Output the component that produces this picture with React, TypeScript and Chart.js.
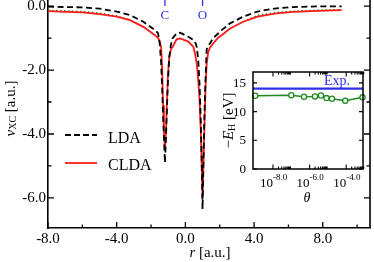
import React, { useEffect, useRef } from "react";
import { Chart, registerables } from "chart.js";

Chart.register(...registerables);

const SERIF = '"Liberation Serif", "Times New Roman", serif';

// ---------- main panel data ----------
const rValues = [
  -8.0, -7.0, -6.0, -5.0, -4.0, -3.22, -2.45, -1.77, -1.59, -1.49, -1.41, -1.35, -1.3, -1.25, -1.19, -1.13,
  -1.08, -1.02, -0.94, -0.84, -0.74, -0.51, -0.31, 0.17, 0.46, 0.56, 0.66, 0.75, 0.83, 0.89, 0.94, 1.0,
  1.06, 1.11, 1.17, 1.24, 1.33, 1.43, 1.62, 1.92, 2.11, 2.6, 3.37, 4.2, 5.3, 6.3, 7.7, 9.1,
];
const ldaValues = [
  -0.02, -0.03, -0.04, -0.08, -0.17, -0.28, -0.49, -0.75, -0.85, -1.2, -1.8, -2.6, -3.4, -4.1, -4.9, -4.1,
  -3.3, -2.4, -1.6, -1.2, -1.0, -0.85, -0.83, -0.96, -1.06, -1.11, -1.27, -1.7, -2.5, -3.5, -4.6, -6.35,
  -4.6, -3.4, -2.3, -1.35, -1.25, -1.17, -1.0, -0.85, -0.75, -0.54, -0.33, -0.17, -0.07, -0.03, -0.01, -0.01,
];
const cldaValues = [
  -0.16, -0.18, -0.2, -0.25, -0.33, -0.44, -0.65, -0.91, -1.0, -1.1, -1.3, -2.0, -3.1, -3.9, -4.5, -3.9,
  -3.1, -2.2, -1.6, -1.35, -1.27, -1.04, -1.01, -1.11, -1.27, -1.48, -1.8, -2.3, -3.0, -3.8, -4.8, -6.0,
  -4.8, -3.7, -2.6, -1.8, -1.43, -1.3, -1.17, -0.98, -0.91, -0.7, -0.49, -0.33, -0.23, -0.18, -0.15, -0.125,
];
const greenValues = [
  -0.13, -0.15, -0.17, -0.22, -0.31, -0.44, null, null, null, null, null, null, null, null, null, null,
  null, null, null, null, null, null, null, null, null, null, null, null, null, null, null, null,
  null, null, null, null, null, null, null, null, null, null, -0.49, -0.29, -0.2, -0.16, -0.13, -0.11,
];
const xMajorTicks = [-8, -4, 0, 4, 8];
const xMinorTicks = [-6, -2, 2, 6, 10];
const yMajorTicks = [0, -2, -4, -6];
const yMinorTicks = [-1, -3, -5];
const atomPositions = [-1.19, 1.0];
const atomLabels = ["C", "O"];
const legendLabels = ["LDA", "CLDA"];

// ---------- inset data ----------
const thetaValues = [1.08e-9, 1.0e-7, 4.94e-7, 1.97e-6, 4.2e-6, 8.4e-6, 1.67e-5, 8.9e-5, 7.8e-4];
const ehValues = [12.75, 12.85, 12.6, 12.65, 12.8, 12.35, 12.25, 11.9, 12.5];
const expValue = 14.0;
const expLabel = "Exp.";
const insetXMajorExps = [-8, -6, -4];
const insetMinorMultipliers = [2, 3, 4, 5, 6, 7, 8, 9];
const insetYTicks = [0, 5, 10, 15];
const thetaMin = 8.07e-10;
const thetaMax = 8.28e-4;

const BLUE = "#2f2fe8";
const GREEN = "#1f8a1f";

type Part = { text: string; font: string; dy?: number };

function drawParts(ctx: CanvasRenderingContext2D, parts: Part[], x: number, y: number, align: "center" | "left" = "center") {
  let total = 0;
  const widths = parts.map((p) => {
    ctx.font = p.font;
    const w = ctx.measureText(p.text).width;
    total += w;
    return w;
  });
  let cx = align === "center" ? x - total / 2 : x;
  ctx.textAlign = "left";
  ctx.textBaseline = "alphabetic";
  parts.forEach((p, i) => {
    ctx.font = p.font;
    ctx.fillText(p.text, cx, y + (p.dy || 0));
    cx += widths[i];
  });
}

const mainDecor = {
  id: "mainDecor",
  afterDraw(chart: any) {
    const { ctx, chartArea, scales } = chart;
    const { left, right, top, bottom } = chartArea;
    const x = scales.x;
    const y = scales.y;
    ctx.save();
    ctx.strokeStyle = "#000";
    ctx.lineWidth = 1.6;
    ctx.beginPath();
    ctx.moveTo(right, top);
    ctx.lineTo(right, bottom);
    ctx.stroke();
    ctx.lineWidth = 1.3;
    ctx.beginPath();
    for (const v of xMajorTicks) {
      const px = x.getPixelForValue(v);
      ctx.moveTo(px, bottom);
      ctx.lineTo(px, bottom - 6);
    }
    for (const v of xMinorTicks) {
      const px = x.getPixelForValue(v);
      ctx.moveTo(px, bottom);
      ctx.lineTo(px, bottom - 3.5);
    }
    for (const v of yMajorTicks) {
      const py = y.getPixelForValue(v);
      ctx.moveTo(left, py);
      ctx.lineTo(left + 6, py);
      ctx.moveTo(right, py);
      ctx.lineTo(right - 6, py);
    }
    for (const v of yMinorTicks) {
      const py = y.getPixelForValue(v);
      ctx.moveTo(left, py);
      ctx.lineTo(left + 3.5, py);
      ctx.moveTo(right, py);
      ctx.lineTo(right - 3.5, py);
    }
    ctx.stroke();

    // atom markers
    ctx.strokeStyle = BLUE;
    ctx.fillStyle = BLUE;
    ctx.lineWidth = 1.3;
    atomPositions.forEach((a, i) => {
      const px = x.getPixelForValue(a);
      ctx.beginPath();
      ctx.moveTo(px, top);
      ctx.lineTo(px, top + 6);
      ctx.stroke();
      ctx.font = `13px ${SERIF}`;
      ctx.textAlign = "center";
      ctx.textBaseline = "alphabetic";
      ctx.fillText(atomLabels[i], px, top + 18.5);
    });

    // legend
    ctx.lineWidth = 1.8;
    ctx.strokeStyle = "#000";
    ctx.setLineDash([6, 3]);
    ctx.beginPath();
    ctx.moveTo(left + 17, 135);
    ctx.lineTo(left + 49, 135);
    ctx.stroke();
    ctx.setLineDash([]);
    ctx.strokeStyle = "#ff1a1a";
    ctx.beginPath();
    ctx.moveTo(left + 17, 163);
    ctx.lineTo(left + 49, 163);
    ctx.stroke();
    ctx.fillStyle = "#000";
    ctx.font = `16px ${SERIF}`;
    ctx.textAlign = "left";
    ctx.textBaseline = "alphabetic";
    ctx.fillText(legendLabels[0], left + 60, 142.5);
    ctx.fillText(legendLabels[1], left + 60, 170);

    // x title
    drawParts(
      ctx,
      [
        { text: "r", font: `italic 15px ${SERIF}` },
        { text: " [a.u.]", font: `15px ${SERIF}` },
      ],
      (left + right) / 2 + 1,
      257
    );

    // y title
    ctx.save();
    ctx.translate(14.5, 108.5);
    ctx.rotate(-Math.PI / 2);
    drawParts(
      ctx,
      [
        { text: "v", font: `italic 15px ${SERIF}` },
        { text: "XC", font: `10px ${SERIF}`, dy: 1.5 },
        { text: " [a.u.]", font: `15px ${SERIF}` },
      ],
      0,
      0
    );
    ctx.restore();
    ctx.restore();
  },
};

const insetDecor = {
  id: "insetDecor",
  afterDraw(chart: any) {
    const { ctx, chartArea, scales } = chart;
    const { left, right, top, bottom } = chartArea;
    const x = scales.x;
    const y = scales.y;
    ctx.save();
    ctx.strokeStyle = "#000";
    ctx.lineWidth = 1.5;
    ctx.strokeRect(left, top, right - left, bottom - top);
    ctx.lineWidth = 1.1;
    ctx.beginPath();
    for (const v of insetYTicks) {
      const py = y.getPixelForValue(v);
      ctx.moveTo(left, py);
      ctx.lineTo(left + 4, py);
      ctx.moveTo(right, py);
      ctx.lineTo(right - 4, py);
    }
    for (const e of insetXMajorExps) {
      const px = x.getPixelForValue(Math.pow(10, e));
      ctx.moveTo(px, bottom);
      ctx.lineTo(px, bottom - 4.5);
      ctx.moveTo(px, top);
      ctx.lineTo(px, top + 4.5);
      for (const m of insetMinorMultipliers) {
        const pm = x.getPixelForValue(m * Math.pow(10, e));
        ctx.moveTo(pm, bottom);
        ctx.lineTo(pm, bottom - 2.5);
        ctx.moveTo(pm, top);
        ctx.lineTo(pm, top + 2.5);
      }
    }
    ctx.stroke();

    ctx.fillStyle = "#000";
    // y labels
    ctx.font = `13px ${SERIF}`;
    ctx.textAlign = "right";
    ctx.textBaseline = "middle";
    for (const v of insetYTicks) {
      ctx.fillText(String(v), left - 7, y.getPixelForValue(v) + 0.5);
    }
    // x labels
    for (const e of insetXMajorExps) {
      const px = x.getPixelForValue(Math.pow(10, e));
      ctx.textBaseline = "alphabetic";
      ctx.font = `13px ${SERIF}`;
      ctx.textAlign = "right";
      ctx.fillText("10", px, bottom + 17.7);
      ctx.font = `9px ${SERIF}`;
      ctx.textAlign = "left";
      ctx.fillText(e.toFixed(1), px, bottom + 10.5);
    }
    // x title
    ctx.font = `italic 14px ${SERIF}`;
    ctx.textAlign = "center";
    ctx.textBaseline = "alphabetic";
    ctx.fillText("\u03b8", (left + right) / 2 - 1, bottom + 32.5);
    // y title
    ctx.save();
    ctx.translate(left - 20.5, (top + bottom) / 2);
    ctx.rotate(-Math.PI / 2);
    drawParts(
      ctx,
      [
        { text: "\u2212", font: `15px ${SERIF}` },
        { text: "E", font: `italic 15px ${SERIF}` },
        { text: "H", font: `10px ${SERIF}`, dy: 2 },
        { text: " [eV]", font: `15px ${SERIF}` },
      ],
      0,
      0
    );
    ctx.restore();
    // Exp label
    ctx.fillStyle = BLUE;
    ctx.font = `14px ${SERIF}`;
    ctx.textAlign = "left";
    ctx.textBaseline = "alphabetic";
    ctx.fillText(expLabel, left + 71, top + 13.3);
    ctx.restore();
  },
};

export default function App() {
  const mainRef = useRef<HTMLCanvasElement | null>(null);
  const insetRef = useRef<HTMLCanvasElement | null>(null);

  useEffect(() => {
    if (!mainRef.current || !insetRef.current) return;

    const mainChart = new Chart(mainRef.current, {
      type: "line",
      data: {
        datasets: [
          {
            label: "extra",
            data: rValues.map((r, i) => ({ x: r, y: greenValues[i] as any })),
            borderColor: GREEN,
            borderWidth: 1.5,
            borderDash: [1.5, 2.5],
            pointRadius: 0,
            spanGaps: false,
            order: 3,
          },
          {
            label: legendLabels[1],
            data: rValues.map((r, i) => ({ x: r, y: cldaValues[i] })),
            borderColor: "#ff1a1a",
            borderWidth: 1.8,
            pointRadius: 0,
            order: 2,
          },
          {
            label: legendLabels[0],
            data: rValues.map((r, i) => ({ x: r, y: ldaValues[i] })),
            borderColor: "#000",
            borderWidth: 1.8,
            borderDash: [6, 3.5],
            pointRadius: 0,
            order: 1,
          },
        ],
      },
      options: {
        animation: false,
        responsive: false,
        devicePixelRatio: 1,
        layout: { padding: { top: 0, right: 4, left: 0, bottom: 0 } },
        plugins: { legend: { display: false }, tooltip: { enabled: false } },
        scales: {
          x: {
            type: "linear",
            min: -8,
            max: 10.75,
            ticks: {
              stepSize: 4,
              includeBounds: false,
              maxRotation: 0,
              autoSkip: false,
              padding: 2,
              color: "#000",
              font: { family: SERIF, size: 15 },
              callback: (v: any) => Number(v).toFixed(1),
            },
            grid: { display: false, drawTicks: false },
            border: { display: true, color: "#000", width: 1.6 },
            afterFit: (s: any) => {
              s.height = 34;
              s.paddingLeft = 0;
              s.paddingRight = 0;
            },
          },
          y: {
            type: "linear",
            min: -6.94,
            max: 0.19,
            ticks: {
              stepSize: 2,
              includeBounds: false,
              padding: 2,
              color: "#000",
              font: { family: SERIF, size: 15 },
              callback: (v: any) => Number(v).toFixed(1),
            },
            grid: { display: false, drawTicks: false },
            border: { display: true, color: "#000", width: 1.6 },
            afterFit: (s: any) => {
              s.width = 48;
              s.paddingTop = 0;
              s.paddingBottom = 0;
            },
          },
        },
      } as any,
      plugins: [mainDecor],
    });

    const insetChart = new Chart(insetRef.current, {
      type: "line",
      data: {
        datasets: [
          {
            label: expLabel,
            data: [
              { x: thetaMin, y: expValue },
              { x: thetaMax, y: expValue },
            ],
            borderColor: BLUE,
            borderWidth: 2.4,
            pointRadius: 0,
            order: 2,
          },
          {
            label: "-E_H",
            data: thetaValues.map((t, i) => ({ x: t, y: ehValues[i] })),
            borderColor: GREEN,
            borderWidth: 1.5,
            pointRadius: 2.6,
            pointBorderWidth: 1.3,
            pointBackgroundColor: "#fff",
            pointBorderColor: GREEN,
            clip: false,
            order: 1,
          },
        ],
      },
      options: {
        animation: false,
        responsive: false,
        devicePixelRatio: 1,
        layout: { padding: { top: 12, right: 7, left: 0, bottom: 0 } },
        plugins: { legend: { display: false }, tooltip: { enabled: false } },
        scales: {
          x: {
            type: "logarithmic",
            min: thetaMin,
            max: thetaMax,
            ticks: { display: false },
            grid: { display: false, drawTicks: false },
            border: { display: false },
            afterFit: (s: any) => {
              s.height = 43;
              s.paddingLeft = 0;
              s.paddingRight = 0;
            },
          },
          y: {
            type: "linear",
            min: 0,
            max: 16.9,
            ticks: { display: false },
            grid: { display: false, drawTicks: false },
            border: { display: false },
            afterFit: (s: any) => {
              s.width = 38;
              s.paddingTop = 0;
              s.paddingBottom = 0;
            },
          },
        },
      } as any,
      plugins: [insetDecor],
    });

    return () => {
      mainChart.destroy();
      insetChart.destroy();
    };
  }, []);

  return (
    <div
      style={{
        position: "fixed",
        left: 0,
        top: 0,
        width: 374,
        height: 262,
        background: "#fff",
        overflow: "hidden",
      }}
    >
      <canvas
        ref={mainRef}
        width={374}
        height={262}
        style={{ position: "absolute", left: 0, top: 0, width: 374, height: 262, display: "block" }}
      />
      <canvas
        ref={insetRef}
        width={155}
        height={152}
        style={{ position: "absolute", left: 215, top: 60, width: 155, height: 152, display: "block" }}
      />
    </div>
  );
}
